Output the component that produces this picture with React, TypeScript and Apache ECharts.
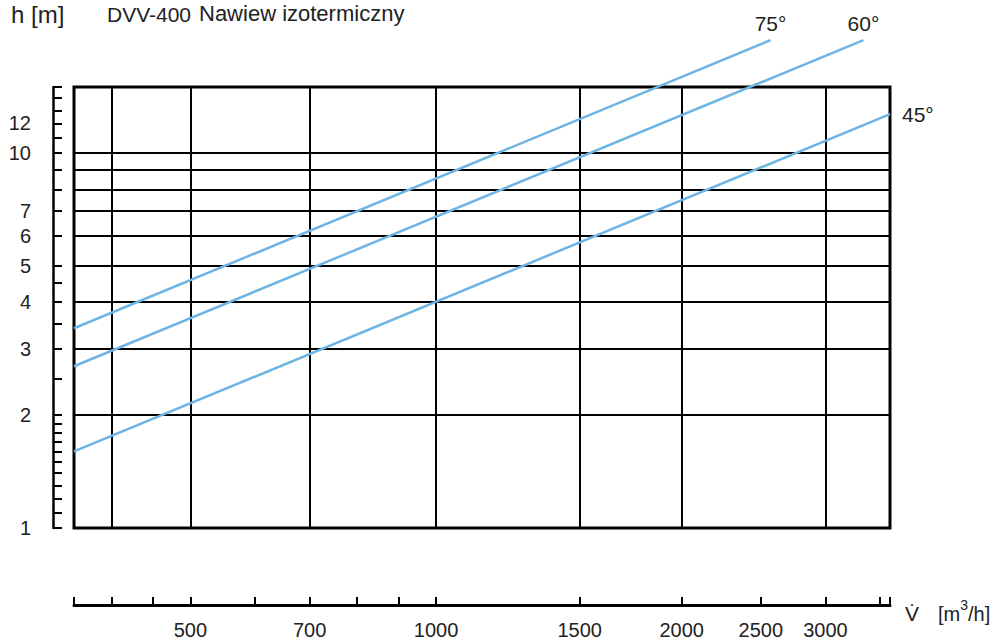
import React, { useEffect, useRef } from 'react';
import * as echarts from 'echarts';

// ---- data ----
const X_MIN = 360;
const X_MAX = 3600;
const Y_MIN = 1;
const Y_MAX = 15;
const xTickValues = [360, 400, 450, 500, 600, 700, 800, 900, 1000, 1500, 2000, 2500, 3000, 3500, 3600];
const xLabelValues = [500, 700, 1000, 1500, 2000, 2500, 3000];
const xGridValues = [400, 500, 700, 1000, 1500, 2000, 3000];
const yTickValues = [1, 1.1, 1.2, 1.3, 1.4, 1.5, 1.6, 1.7, 1.8, 1.9, 2, 2.5, 3, 3.5, 4, 4.5, 5, 6, 7, 8, 9, 10, 11, 12, 13, 14, 15];
const yLabelValues = [1, 2, 3, 4, 5, 6, 7, 10, 12];
const yGridValues = [2, 3, 4, 5, 6, 7, 8, 9, 10];

const seriesNames = ['75°', '60°', '45°'];
const line75: number[][] = [[360, 3.41], [2570, 20]];
const line60: number[][] = [[360, 2.7], [3340, 20]];
const line45: number[][] = [[360, 1.6], [3600, 12.7]];

const LINE_COLOR = '#6db4e5';
const TEXT_COLOR = '#222';
const FONT = 'Liberation Sans, Arial, Helvetica, sans-serif';

function makeLine(name: string, pts: number[][], pos: string, dist: number) {
  return {
    type: 'line',
    name,
    clip: false,
    z: 4,
    silent: true,
    showSymbol: true,
    symbol: 'circle',
    symbolSize: 0,
    lineStyle: { color: LINE_COLOR, width: 2.5 },
    itemStyle: { color: LINE_COLOR },
    emphasis: { disabled: true },
    data: pts.map((p, i) =>
      i === pts.length - 1
        ? {
            value: p,
            label: {
              show: true,
              position: pos,
              distance: dist,
              formatter: name,
              fontFamily: FONT,
              fontSize: 21,
              color: TEXT_COLOR,
            },
          }
        : { value: p, label: { show: false } }
    ),
  };
}

export default function App() {
  const ref = useRef<HTMLDivElement>(null);
  useEffect(() => {
    const chart = echarts.init(ref.current!, null, { renderer: 'svg' });
    const option: any = {
      animation: false,
      backgroundColor: '#fff',
      grid: {
        left: 74,
        right: 105,
        top: 87,
        bottom: 113,
        containLabel: false,
        outerBoundsMode: 'none',
        show: true,
        borderColor: '#000',
        borderWidth: 3,
        backgroundColor: 'transparent',
        z: 2,
      },
      xAxis: {
        type: 'log',
        logBase: 10,
        min: X_MIN,
        max: X_MAX,
        position: 'bottom',
        offset: 77,
        axisLine: { show: true, lineStyle: { color: '#000', width: 3 } },
        axisTick: {
          show: true,
          inside: true,
          length: 8,
          customValues: xTickValues,
          lineStyle: { color: '#000', width: 2 },
        },
        axisLabel: {
          show: true,
          customValues: xLabelValues,
          margin: 15,
          fontFamily: FONT,
          fontSize: 20,
          color: TEXT_COLOR,
          formatter: (v: number) => String(Math.round(v)),
        },
        splitLine: { show: false },
        minorTick: { show: false },
        name: '{v|V\u0307}{s|[m}{sup|3}{s|/h]}',
        nameLocation: 'end',
        nameGap: 15,
        nameTextStyle: {
          padding: [12, 0, 0, 0],
          rich: {
            v: { fontFamily: FONT, fontSize: 21, color: TEXT_COLOR, lineHeight: 26, verticalAlign: 'bottom', padding: [0, 19, 0, 0] },
            s: { fontFamily: FONT, fontSize: 20, color: TEXT_COLOR, lineHeight: 26, verticalAlign: 'bottom' },
            sup: { fontFamily: FONT, fontSize: 14, color: TEXT_COLOR, lineHeight: 26, verticalAlign: 'top' },
          },
        },
      },
      yAxis: {
        type: 'log',
        logBase: 10,
        min: Y_MIN,
        max: Y_MAX,
        position: 'left',
        offset: 21,
        axisLine: { show: true, lineStyle: { color: '#000', width: 2.5 } },
        axisTick: {
          show: true,
          inside: true,
          length: 9,
          customValues: yTickValues,
          lineStyle: { color: '#000', width: 2 },
        },
        axisLabel: {
          show: true,
          customValues: yLabelValues,
          margin: 22,
          fontFamily: FONT,
          fontSize: 20,
          color: TEXT_COLOR,
          formatter: (v: number) => String(Math.round(v * 100) / 100),
        },
        splitLine: { show: false },
        minorTick: { show: false },
      },
      series: [
        {
          type: 'line',
          data: [],
          z: 1,
          silent: true,
          markLine: {
            silent: true,
            z: 1,
            animation: false,
            symbol: ['none', 'none'],
            label: { show: false },
            emphasis: { disabled: true },
            lineStyle: { color: '#000', width: 2, type: 'solid' },
            data: [
              ...yGridValues.map((v) => [{ coord: [X_MIN, v] }, { coord: [X_MAX, v] }]),
              ...xGridValues.map((v) => [{ coord: [v, Y_MIN] }, { coord: [v, Y_MAX] }]),
            ],
          },
        },
        makeLine(seriesNames[0], line75, 'top', 6),
        makeLine(seriesNames[1], line60, 'top', 6),
        makeLine(seriesNames[2], line45, 'right', 12),
      ],
      graphic: [
        { type: 'text', left: 11, top: 2, style: { text: 'h [m]', fontFamily: FONT, fontSize: 24, fill: TEXT_COLOR } },
        { type: 'text', left: 107, top: 4, style: { text: 'DVV-400', fontFamily: FONT, fontSize: 21, fill: TEXT_COLOR } },
        { type: 'text', left: 199, top: 2, style: { text: 'Nawiew izotermiczny', fontFamily: FONT, fontSize: 22, fill: TEXT_COLOR } },
      ],
    };
    chart.setOption(option);
    return () => chart.dispose();
  }, []);
  return <div ref={ref} style={{ position: 'absolute', left: 0, top: 0, width: 995, height: 641 }} />;
}
